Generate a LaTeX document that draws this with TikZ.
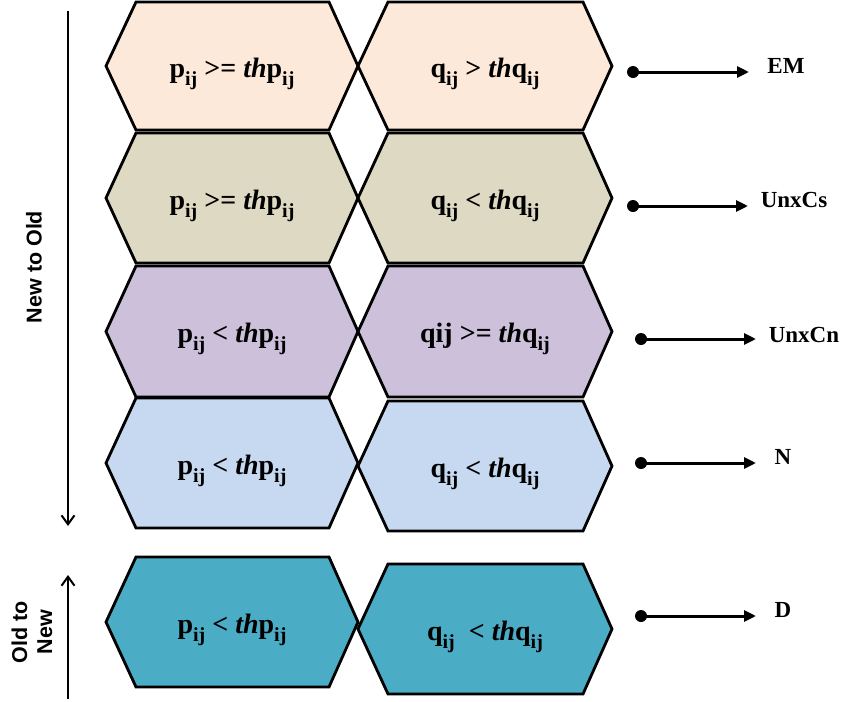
\documentclass[tikz,border=0pt]{standalone}
\usepackage{fontspec}
\setmainfont{Liberation Serif}
\setsansfont{Liberation Sans}
\usetikzlibrary{arrows.meta}
\definecolor{cpeach}{HTML}{FCE9DA}
\definecolor{colive}{HTML}{DDD9C3}
\definecolor{clav}{HTML}{CCC0DA}
\definecolor{cblue}{HTML}{C6D9F0}
\definecolor{cteal}{HTML}{4BACC6}
\newcommand{\sbij}{\raisebox{-0.3em}{\fontsize{20}{22}\selectfont ij}}
\newcommand{\hexa}[6]{% name, xleft, xright, ytop, ybottom, colour
  \filldraw[hexbox, fill=#6] (#2,{(#4+#5)/2}) -- ({#2+30},#4) -- ({#3-29},#4) -- (#3,{(#4+#5)/2}) -- ({#3-29},#5) -- ({#2+30},#5) -- cycle;
  \coordinate (#1) at ({(#2+#3)/2},{(#4+#5)/2+11});}
\tikzset{
  hexbox/.style={line width=2.8pt, draw=black, line join=miter},
  hextext/.style={font=\fontsize{28}{30}\selectfont\bfseries, anchor=base, inner sep=0pt},
  outlab/.style={font=\fontsize{23}{25}\selectfont\bfseries, anchor=base, inner sep=0pt},
  outarrow/.style={line width=3pt, -{Triangle[length=12pt,width=11pt]}},
  dotc/.style={circle, fill=black, inner sep=0pt, minimum size=12pt},
  sidelab/.style={font=\fontsize{21.5}{25}\selectfont\sffamily\bfseries, rotate=90, align=center, inner sep=0pt},
  timeline/.style={line width=2pt, -{Straight Barb[length=9pt,width=13pt]}}
}
\begin{document}
\begin{tikzpicture}[x=1pt,y=-1pt]
\useasboundingbox (0,0) rectangle (847,702);
% hexagons
\hexa{L1}{106}{358}{2}{130}{cpeach}
\hexa{R1}{358}{612}{2}{130}{cpeach}
\hexa{L2}{106}{358}{133}{263}{colive}
\hexa{R2}{358}{612}{133}{263}{colive}
\hexa{L3}{106}{358}{266}{397}{clav}
\hexa{R3}{358}{612}{266}{397}{clav}
\hexa{L4}{106}{358}{398}{528}{cblue}
\hexa{R4}{358}{612}{401}{531}{cblue}
\hexa{L5}{106}{358}{557}{687}{cteal}
\hexa{R5}{358}{612}{564}{694}{cteal}
% texts
\node[hextext] (tL1) at (L1) {p\sbij{} >= \textit{th}p\sbij};
\node[hextext] (tR1) at (R1) {q\sbij{} > \textit{th}q\sbij};
\node[hextext] (tL2) at (L2) {p\sbij{} >= \textit{th}p\sbij};
\node[hextext] (tR2) at (R2) {q\sbij{} < \textit{th}q\sbij};
\node[hextext] (tL3) at (L3) {p\sbij{} < \textit{th}p\sbij};
\node[hextext] (tR3) at (R3) {qij >= \textit{th}q\sbij};
\node[hextext] (tL4) at (L4) {p\sbij{} < \textit{th}p\sbij};
\node[hextext] (tR4) at (R4) {q\sbij{} < \textit{th}q\sbij};
\node[hextext] (tL5) at (L5) {p\sbij{} < \textit{th}p\sbij};
\node[hextext] (tR5) at (R5) {q\sbij{}\ \ < \textit{th}q\sbij};
% output arrows
\node[dotc] (d1) at (633,72) {};
\coordinate (e1) at (749,72);
\draw[outarrow] (d1.center) -- (e1);
\node[outlab] (o1) at (786,73) {EM};
\node[dotc] (d2) at (633,206) {};
\coordinate (e2) at (748,206);
\draw[outarrow] (d2.center) -- (e2);
\node[outlab] (o2) at (794,207) {UnxCs};
\node[dotc] (d3) at (641,339) {};
\coordinate (e3) at (756,339);
\draw[outarrow] (d3.center) -- (e3);
\node[outlab] (o3) at (804,342) {UnxCn};
\node[dotc] (d4) at (641,463) {};
\coordinate (e4) at (756,463);
\draw[outarrow] (d4.center) -- (e4);
\node[outlab] (o4) at (783,464) {N};
\node[dotc] (d5) at (641,616) {};
\coordinate (e5) at (756,616);
\draw[outarrow] (d5.center) -- (e5);
\node[outlab] (o5) at (783,617) {D};
% timeline arrows
\coordinate (a1s) at (68,11);
\coordinate (a1e) at (68,526);
\draw[timeline] (a1s) -- (a1e);
\node[sidelab] (s1) at (34,267) {New to Old};
\coordinate (a2s) at (68,699);
\coordinate (a2e) at (68,575);
\draw[timeline] (a2s) -- (a2e);
\node[sidelab] (s2) at (32,632) {Old to\\New};
\end{tikzpicture}
\end{document}
